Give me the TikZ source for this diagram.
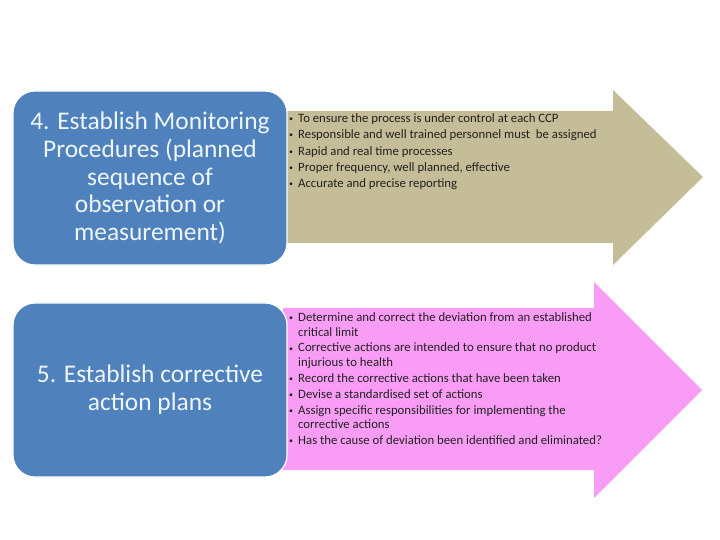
\documentclass[tikz,border=0pt]{standalone}
\usepackage{fontspec}
\setmainfont{Carlito}
\usepackage{tikz}
\usetikzlibrary{positioning}
\definecolor{stepblue}{HTML}{4F81BD}
\definecolor{steptext}{HTML}{EEF6FA}
\definecolor{monitan}{HTML}{C4BD97}
\definecolor{corrpink}{HTML}{F99CF5}
\definecolor{bodytext}{HTML}{222222}
\newcommand{\bul}{\makebox[9bp][l]{\raisebox{0.8bp}{\fontsize{8}{8}\selectfont\textbullet}}}
\newcommand{\cont}{\hspace*{9bp}}

\begin{document}
\begin{tikzpicture}[
  x=1bp, y=-1bp,
  stepbox/.style={fill=stepblue, draw=white, line width=1.2bp, rounded corners=22bp,
    minimum width=274bp, minimum height=174bp, inner sep=0pt, align=center,
    text=steptext, font=\fontsize{25.5}{28}\selectfont},
  pointlist/.style={anchor=north west, align=left, inner sep=0pt, text=bodytext,
    font=\fontsize{12.8}{16.3}\selectfont}
]
\useasboundingbox (0,0) rectangle (720,540);
% arrows behind the boxes
\fill[monitan] (283,111) -- (613,111) -- (613,90) -- (703,177) -- (613,265)
  -- (613,243) -- (283,243) -- cycle;
\fill[corrpink] (283,308) -- (594,308) -- (594,282) -- (702,390) -- (594,498)
  -- (594,470) -- (283,470) -- cycle;
% step boxes
\node[stepbox] (monitor) at (150,178) {4. Establish Monitoring\\Procedures (planned\\sequence of\\observation or\\measurement)};
\node[stepbox] (correct) at (150,390) {5. Establish corrective\\action plans};
% points
\node[pointlist] (monpts) at (289,113.5) {%
  \bul To ensure the process is under control at each CCP\\
  \bul Responsible and well trained personnel must\ \ be assigned\\
  \bul Rapid and real time processes\\
  \bul Proper frequency, well planned, effective\\
  \bul Accurate and precise reporting};
\node[pointlist, font=\fontsize{12.8}{14.5}\selectfont] (corpts) at (289,312.5) {%
  \bul Determine and correct the deviation from an established\\
  \cont critical limit\\[1.5bp]
  \bul Corrective actions are intended to ensure that no product\\
  \cont injurious to health\\[1.5bp]
  \bul Record the corrective actions that have been taken\\[1.5bp]
  \bul Devise a standardised set of actions\\[1.5bp]
  \bul Assign specific responsibilities for implementing the\\
  \cont corrective actions\\[1.5bp]
  \bul Has the cause of deviation been identified and eliminated?};
\end{tikzpicture}
\end{document}
